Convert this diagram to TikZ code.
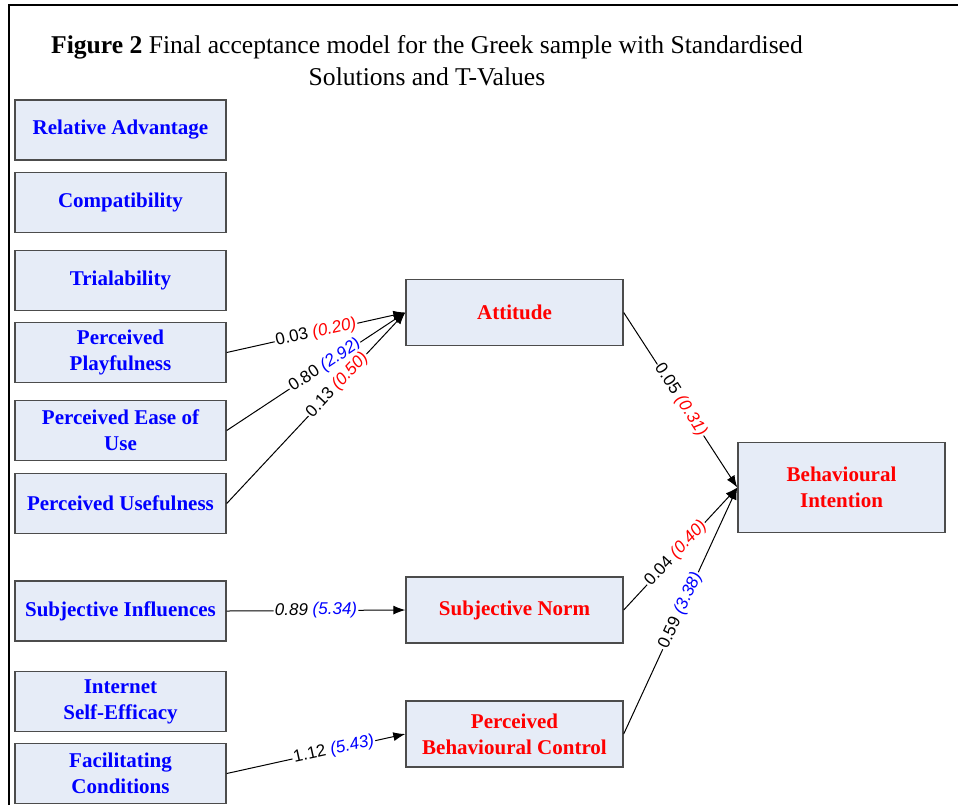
\documentclass[tikz,border=0pt]{standalone}
\usepackage{fontspec}
\usetikzlibrary{arrows.meta}
\setmainfont{Liberation Serif}
\newfontfamily\arial{Liberation Sans}
\definecolor{boxfill}{RGB}{230,236,247}

\begin{document}
\begin{tikzpicture}[
        x=0.5pt, y=-0.5pt,
        s/.style={draw=black!70,line width=0.7pt,fill=boxfill,rectangle,minimum height=30pt,minimum width=105.5pt,
            align=center,inner sep=1pt,text=blue,font=\fontsize{10.5}{13}\selectfont\bfseries},
        c/.style={s,minimum height=33pt,minimum width=108.5pt,text=red},
        e/.style={fill=white,inner sep=0.6pt,sloped,font=\arial\fontsize{8.5}{10}\selectfont}
    ]

    \useasboundingbox (0,0) rectangle (958,805);
    \draw[line width=1pt] (8.5,805) -- (8.5,5) -- (958,5);

    \node[align=center,font=\fontsize{12.8}{16}\selectfont] (title) at (427,61)
        {\textbf{Figure 2} Final acceptance model for the Greek sample with Standardised\\Solutions and T-Values};

    % antecedents
    \node[s] (ra) at (120.5,130) {Relative Advantage};
    \node[s] (comp) at (120.5,202.5) {Compatibility};
    \node[s] (trial) at (120.5,280.5) {Trialability};
    \node[s] (pp) at (120.5,352.5) {Perceived\\Playfulness};
    \node[s] (peou) at (120.5,430.5) {Perceived Ease of\\Use};
    \node[s] (pu) at (120.5,503.5) {Perceived Usefulness};
    \node[s] (si) at (120.5,611) {Subjective Influences};
    \node[s] (ise) at (120.5,701.5) {Internet\\Self-Efficacy};
    \node[s] (fc) at (120.5,773.5) {Facilitating\\Conditions};

    % constructs
    \node[c] (att) at (514.5,312.5) {Attitude};
    \node[c] (sn) at (514.5,610) {Subjective Norm};
    \node[c] (pbc) at (514.5,734) {Perceived\\Behavioural Control};
    \node[c,minimum width=103.5pt,minimum height=45pt] (bi) at (841.5,487.5) {Behavioural\\Intention};

    \path[-{Latex[length=6pt,width=4.5pt]},line width=0.5pt]
        (pp.east) edge node[e,pos=0.5] {0.03 \textcolor{red}{\textit{(0.20)}}} (att.west)
        (peou.east) edge node[e,pos=0.55] {0.80 \textcolor{blue}{\textit{(2.92)}}} (att.west)
        (pu.east) edge node[e,pos=0.62] {0.13 \textcolor{red}{\textit{(0.50)}}} (att.west)
        (si.east) edge node[e,pos=0.5] {\textit{0.89} \textcolor{blue}{\textit{(5.34)}}} (sn.west)
        (fc.east) edge node[e,pos=0.6] {1.12 \textcolor{blue}{\textit{(5.43)}}} (pbc.west)
        (att.east) edge node[e,pos=0.5] {0.05 \textcolor{red}{\textit{(0.31)}}} (bi.west)
        (sn.east) edge node[e,pos=0.46] {0.04 \textcolor{red}{\textit{(0.40)}}} (bi.west)
        (pbc.east) edge node[e,pos=0.5] {0.59 \textcolor{blue}{\textit{(3.38)}}} (bi.west)
        ;

\end{tikzpicture}
\end{document}
